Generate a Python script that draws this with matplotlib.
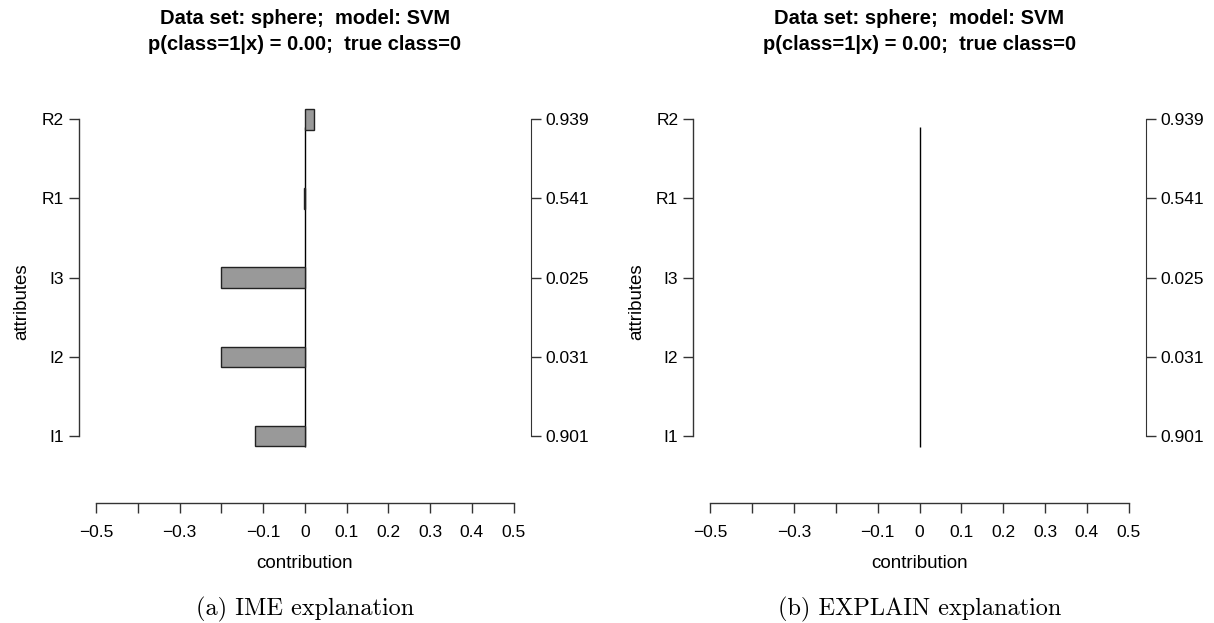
import matplotlib
matplotlib.use("Agg")
import matplotlib.pyplot as plt
from matplotlib.transforms import blended_transform_factory

plt.rcParams["font.family"] = ["Liberation Sans", "DejaVu Sans"]

# data
attributes = ["I1", "I2", "I3", "R1", "R2"]
attr_values = ["0.901", "0.031", "0.025", "0.541", "0.939"]
ime_contrib = [-0.119, -0.200, -0.202, -0.003, 0.022]
explain_contrib = [0.0, 0.0, 0.0, 0.0, 0.0]

x_ticks = [-0.5, -0.4, -0.3, -0.2, -0.1, 0.0, 0.1, 0.2, 0.3, 0.4, 0.5]
x_tick_labels = ["\u22120.5", "", "\u22120.3", "", "\u22120.1", "0",
                 "0.1", "0.2", "0.3", "0.4", "0.5"]

title_line1 = "Data set: sphere;  model: SVM"
title_line2 = "p(class=1|x) = 0.00;  true class=0"
captions = ["(a) IME explanation", "(b) EXPLAIN explanation"]

AX_COLOR = "#333333"
FS = 12.5


def draw_panel(fig, rect, contrib, caption):
    ax = fig.add_axes(rect)
    ypos = list(range(1, len(attributes) + 1))

    ax.vlines(0, 0.86, 4.9, color="black", lw=1.0, zorder=1)
    # zero-length bars are not drawn at all (as in R)
    lws = [1.0 if v != 0 else 0.0 for v in contrib]
    ax.barh(ypos, contrib, height=0.26, color="#999999",
            edgecolor="#222222", linewidth=lws, zorder=2)

    ax.set_xlim(-0.541, 0.541)
    ax.set_ylim(0.1576, 5.2438)
    ax.patch.set_visible(False)

    for s in ["top", "right"]:
        ax.spines[s].set_visible(False)
    ax.spines["bottom"].set_bounds(-0.5, 0.5)
    ax.spines["left"].set_bounds(1, 5)
    for s in ["bottom", "left"]:
        ax.spines[s].set_color(AX_COLOR)
        ax.spines[s].set_linewidth(1.0)

    ax.set_yticks(ypos, attributes)
    ax.set_xticks(x_ticks, x_tick_labels)
    ax.tick_params(axis="y", length=7.2, width=1, pad=3.6,
                   labelsize=FS, color=AX_COLOR)
    ax.tick_params(axis="x", length=7.2, width=1, pad=9,
                   labelsize=FS, color=AX_COLOR)
    ax.set_xlabel("contribution", fontsize=13.5, labelpad=11)
    ax.set_ylabel("attributes", fontsize=13.5, labelpad=8)

    # right axis with attribute values
    ax2 = ax.twinx()
    ax2.set_ylim(ax.get_ylim())
    for s in ["top", "left", "bottom"]:
        ax2.spines[s].set_visible(False)
    ax2.spines["right"].set_bounds(1, 5)
    ax2.spines["right"].set_color(AX_COLOR)
    ax2.set_yticks(ypos, attr_values)
    ax2.tick_params(axis="y", length=7.2, width=1, pad=3.6,
                    labelsize=FS, color=AX_COLOR)

    # two-line bold title and caption below
    tr = blended_transform_factory(ax.transAxes, fig.transFigure)
    ax.text(0.5, 1 - 19 / 623, title_line1, transform=tr, ha="center",
            va="center", fontsize=14.5, fontweight="bold")
    ax.text(0.5, 1 - 45 / 623, title_line2, transform=tr, ha="center",
            va="center", fontsize=14.5, fontweight="bold")
    ax.text(0.5, 1 - 609 / 623, caption, transform=tr, ha="center",
            va="center", fontsize=17.5, family="cmr10")
    return ax


fig = plt.figure(figsize=(12.14, 6.23), dpi=100)
draw_panel(fig, [0.0651, 0.1931, 0.3721, 0.6464], ime_contrib, captions[0])
draw_panel(fig, [0.5711, 0.1931, 0.3727, 0.6464], explain_contrib, captions[1])

fig.savefig("out.png", dpi=100)
